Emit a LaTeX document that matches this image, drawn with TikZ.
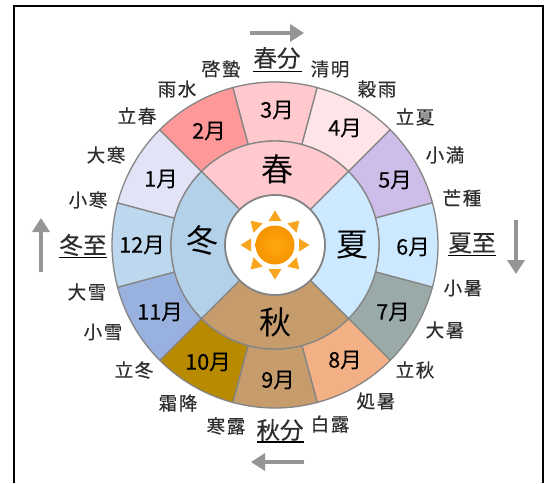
\documentclass[tikz,border=0pt]{standalone}
\usepackage{fontspec}
\usetikzlibrary{arrows.meta}
\setmainfont{Noto Sans CJK JP}
\newfontfamily\termfont[LetterSpace=9,FakeBold=0.5]{Noto Sans CJK JP}
\newfontfamily\solfont[FakeBold=0.4]{Noto Sans CJK JP}
\newfontfamily\monthfont[FakeBold=0.3]{Noto Sans CJK JP}
\definecolor{ringline}{HTML}{858585}
\definecolor{inkc}{HTML}{2E2E2E}
\definecolor{arrowc}{HTML}{959595}
\definecolor{sunray}{HTML}{F9A51E}
\definecolor{sunin}{HTML}{FFA90F}
\definecolor{sunout}{HTML}{F79400}
\definecolor{mA}{HTML}{E3E3F8}
\definecolor{mB}{HTML}{FF9999}
\definecolor{mC}{HTML}{FFC9CE}
\definecolor{mD}{HTML}{FFE5E8}
\definecolor{mE}{HTML}{CDBDE8}
\definecolor{mF}{HTML}{CCE9FF}
\definecolor{mG}{HTML}{99AAA8}
\definecolor{mH}{HTML}{F3B084}
\definecolor{mI}{HTML}{C69C6D}
\definecolor{mJ}{HTML}{B88A00}
\definecolor{mK}{HTML}{98B1DF}
\definecolor{mL}{HTML}{BDD7EE}
\definecolor{sW}{HTML}{B4D1EA}
\tikzset{
  term/.style={font=\termfont\fontsize{18.5}{19}\selectfont,text=inkc,inner sep=0pt},
  month/.style={font=\monthfont\fontsize{21.5}{22}\selectfont,text=black,inner sep=0pt},
  seasonlab/.style={font=\fontsize{32}{32}\selectfont,text=black,inner sep=0pt},
  solst/.style={font=\solfont\fontsize{23.5}{24}\selectfont,text=inkc,inner sep=0pt},
  underl/.style={draw=black,line width=1.3pt},
  dirarrow/.style={draw=arrowc,line width=4.5pt,-{Triangle[length=14pt,width=17pt]}},
  sector/.style={draw=ringline,line width=1.3pt},
  ray/.style={fill=sunray},
}
\newcommand{\annul}[5]{% from-angle, to-angle, inner, outer, colour
  \path[fill=#5,sector] (#1:#3) arc[start angle=#1,end angle=#2,radius=#3] -- (#2:#4) arc[start angle=#2,end angle=#1,radius=#4] -- cycle;}
\begin{document}
\begin{tikzpicture}[x=1pt,y=1pt]
\useasboundingbox (0,0) rectangle (549,-483);
\fill[white] (0,0) rectangle (549,-483);
\draw[black,line width=2pt] (13.5,-483) -- (13.5,-5.5) -- (542.5,-5.5) -- (542.5,-483);
\begin{scope}[shift={(275,-245)}]
  \annul{75}{105}{104}{163}{mC}
  \annul{45}{75}{104}{163}{mD}
  \annul{15}{45}{104}{163}{mE}
  \annul{-15}{15}{104}{163}{mF}
  \annul{-45}{-15}{104}{163}{mG}
  \annul{-75}{-45}{104}{163}{mH}
  \annul{-105}{-75}{104}{163}{mI}
  \annul{-135}{-105}{104}{163}{mJ}
  \annul{-165}{-135}{104}{163}{mK}
  \annul{165}{195}{104}{163}{mL}
  \annul{135}{165}{104}{163}{mA}
  \annul{105}{135}{104}{163}{mB}
  \annul{45}{135}{50}{104}{mC}
  \annul{-45}{45}{50}{104}{mF}
  \annul{-135}{-45}{50}{104}{mI}
  \annul{135}{225}{50}{104}{sW}
  \draw[ringline,fill=white,line width=1.8pt] (0,0) circle[radius=50];
  \foreach \a in {0,45,...,315}{
    \fill[ray,rotate=\a] (34.5,0) -- (24,6.5) -- (24,-6.5) -- cycle;
  }
  \shade[inner color=sunin,outer color=sunout] (0,0) circle[radius=19.5];
\end{scope}
% months
\node[month] (m1) at (161,-179) {1月};
\node[month] (m2) at (209,-131) {2月};
\node[month] (m3) at (277,-110) {3月};
\node[month] (m4) at (345,-128) {4月};
\node[month] (m5) at (395,-180) {5月};
\node[month] (m6) at (413,-247) {6月};
\node[month] (m7) at (393,-312) {7月};
\node[month] (m8) at (345,-360) {8月};
\node[month] (m9) at (278,-380) {9月};
\node[month] (m10) at (208,-362) {10月};
\node[month] (m11) at (160,-312) {11月};
\node[month] (m12) at (142,-245) {12月};
% seasons
\node[seasonlab] (spring) at (277,-169) {春};
\node[seasonlab] (summer) at (352,-245) {夏};
\node[seasonlab] (autumn) at (275,-322) {秋};
\node[seasonlab] (winter) at (202,-240) {冬};
% solar terms
\node[term] (t1) at (137,-116) {立春};
\node[term] (t2) at (177,-89) {雨水};
\node[term] (t3) at (221,-69) {啓蟄};
\node[term] (t4) at (330,-69) {清明};
\node[term] (t5) at (377,-89) {穀雨};
\node[term] (t6) at (415,-117) {立夏};
\node[term] (t7) at (445,-155) {小満};
\node[term] (t8) at (462,-198) {芒種};
\node[term] (t9) at (463,-288) {小暑};
\node[term] (t10) at (445,-330) {大暑};
\node[term] (t11) at (415,-370) {立秋};
\node[term] (t12) at (376,-401) {処暑};
\node[term] (t13) at (330,-424) {白露};
\node[term] (t14) at (226,-426) {寒露};
\node[term] (t15) at (178,-403) {霜降};
\node[term] (t16) at (134,-370) {立冬};
\node[term] (t17) at (103,-332) {小雪};
\node[term] (t18) at (87,-292) {大雪};
\node[term] (t19) at (88,-200) {小寒};
\node[term] (t20) at (106,-155) {大寒};
% equinoxes and solstices
\node[solst] (eqS) at (277,-58) {春分};
\node[solst] (eqA) at (280,-430) {秋分};
\node[solst] (solS) at (472,-243) {夏至};
\node[solst] (solW) at (83,-245) {冬至};
\draw[underl] (253,-71.5) -- (302,-71.5);
\draw[underl] (257,-442) -- (304,-442);
\draw[underl] (448,-255.5) -- (496,-255.5);
\draw[underl] (59,-257.5) -- (107,-257.5);
% direction arrows
\coordinate (aN1) at (250,-33);
\coordinate (aN2) at (304,-33);
\coordinate (aS1) at (304,-462);
\coordinate (aS2) at (251,-462);
\coordinate (aW1) at (41,-272);
\coordinate (aW2) at (41,-218);
\coordinate (aE1) at (516,-220);
\coordinate (aE2) at (516,-274);
\draw[dirarrow] (aN1) -- (aN2);
\draw[dirarrow] (aS1) -- (aS2);
\draw[dirarrow] (aW1) -- (aW2);
\draw[dirarrow] (aE1) -- (aE2);
\end{tikzpicture}
\end{document}
